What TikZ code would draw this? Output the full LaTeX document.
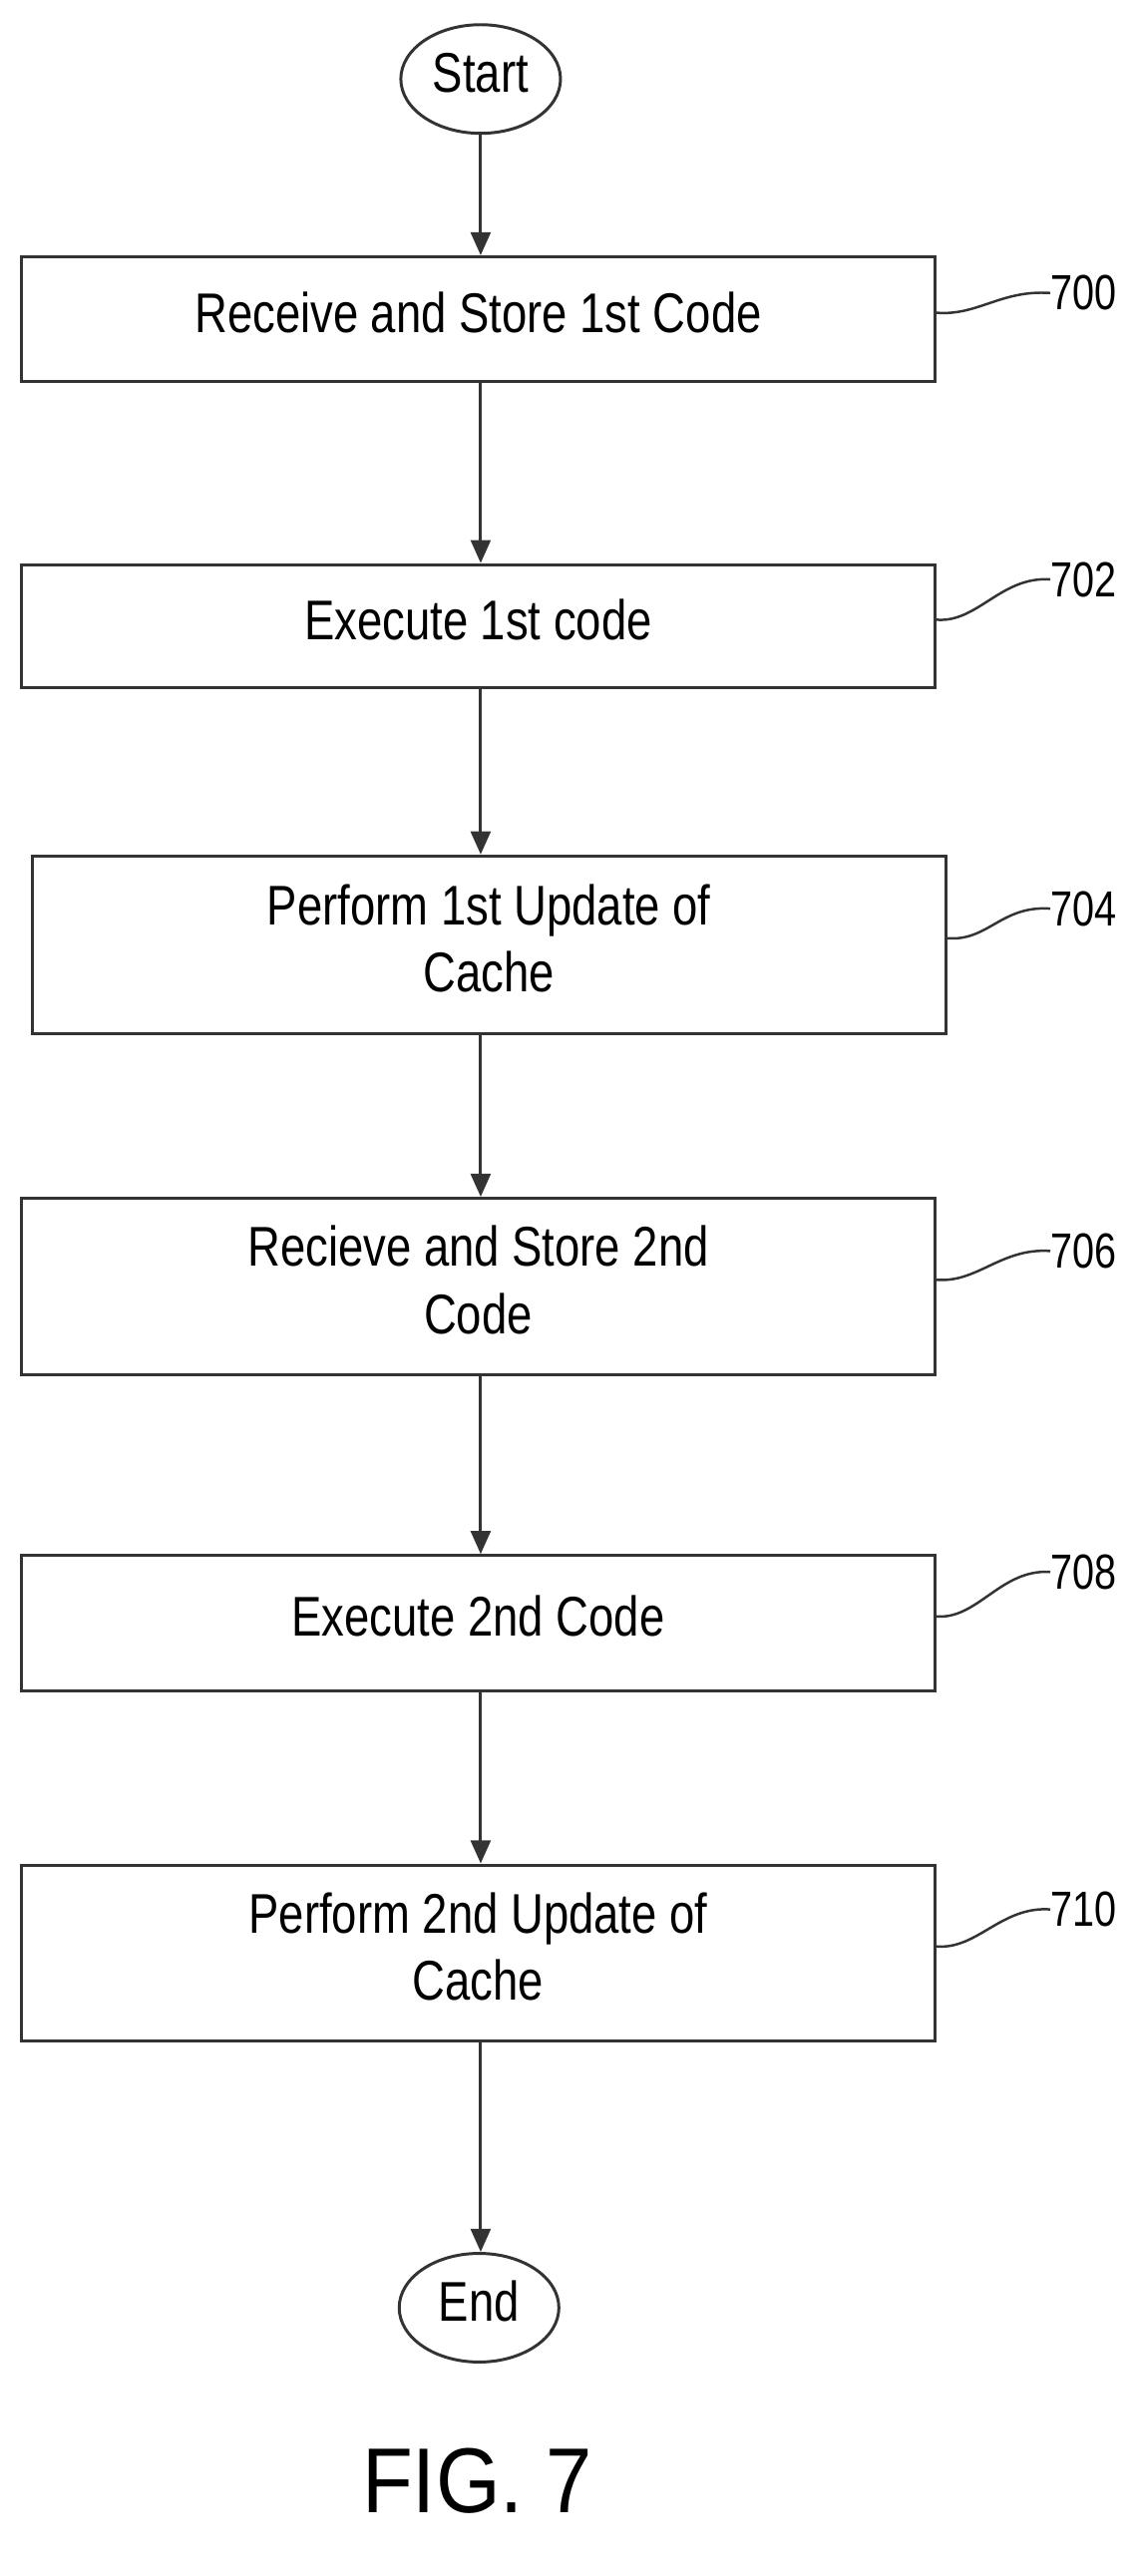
\documentclass[tikz,border=0pt]{standalone}
\usepackage{fontspec}
\setmainfont{Liberation Sans}
\usepackage{graphicx}
\usetikzlibrary{shapes.geometric,arrows.meta}
\newcommand{\nt}[1]{\scalebox{0.81}[1]{\begin{tabular}{@{}c@{}}#1\end{tabular}}}
\begin{document}
\begin{tikzpicture}[x=1pt,y=-1pt,
  ln/.style={draw=black!80,line width=1.8pt},
  stepbox/.style={ln,rectangle,minimum width=555pt,inner sep=0pt,font=\fontsize{34}{41}\selectfont},
  term/.style={ln,ellipse,minimum width=97pt,minimum height=66pt,inner sep=0pt,font=\fontsize{34}{41}\selectfont},
  arr/.style={ln,-{Triangle[length=14pt,width=12pt]}},
  lead/.style={ln,line width=1.5pt},
  lab/.style={font=\fontsize{30}{34}\selectfont,inner sep=0pt}]
\useasboundingbox (0,0) rectangle (690,1565);
\node[term] (start) at (292,48) {\nt{Start}};
\node[stepbox,minimum height=76pt] (b700) at (290.5,194) {\nt{Receive and Store 1st Code}};
\node[stepbox,minimum height=75pt] (b702) at (290.5,380.5) {\nt{Execute 1st code}};
\node[stepbox,minimum height=108pt] (b704) at (297,574) {\nt{Perform 1st Update of\\Cache}};
\node[stepbox,minimum height=107pt] (b706) at (290.5,781.5) {\nt{Recieve and Store 2nd\\Code}};
\node[stepbox,minimum height=82pt] (b708) at (290.5,986) {\nt{Execute 2nd Code}};
\node[stepbox,minimum height=107pt] (b710) at (290.5,1186.5) {\nt{Perform 2nd Update of\\Cache}};
\node[term] (end) at (291,1402) {\nt{End}};
\node[font=\fontsize{56}{60}\selectfont] (fig) at (290,1507) {\scalebox{0.9}[1]{FIG. 7}};
\draw[arr] (start) -- (start|-b700.north);
\draw[arr] (b700.south-|start) -- (start|-b702.north);
\draw[arr] (b702.south-|start) -- (start|-b704.north);
\draw[arr] (b704.south-|start) -- (start|-b706.north);
\draw[arr] (b706.south-|start) -- (start|-b708.north);
\draw[arr] (b708.south-|start) -- (start|-b710.north);
\draw[arr] (b710.south-|start) -- (start|-end.north);
\foreach \b/\t/\y in {b700/700/178, b702/702/352, b704/704/552, b706/706/760, b708/708/955, b710/710/1160}{
  \node[lab,anchor=west] (l\t) at (638,\y) {\scalebox{0.8}[1]{\t}};
  \coordinate (s\t) at ([yshift=4pt]\b.east);
  \draw[lead] (s\t) .. controls ([xshift=25pt,yshift=-2pt]s\t) and ([xshift=-30pt,yshift=2pt]l\t.west) .. (l\t.west);
}
\end{tikzpicture}
\end{document}
